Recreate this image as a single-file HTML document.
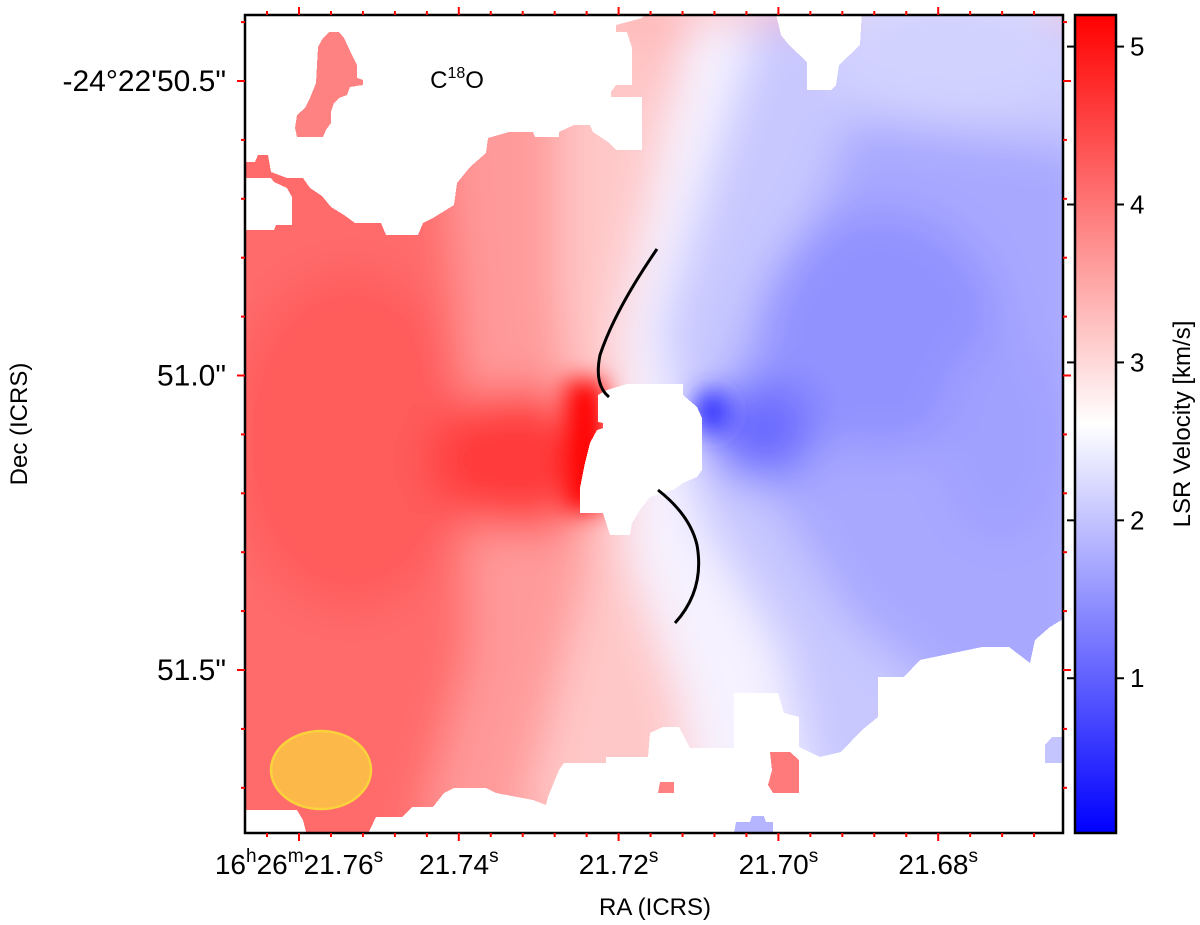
<!DOCTYPE html>
<html><head><meta charset="utf-8"><style>
html,body{margin:0;padding:0;background:#fff;}
svg{display:block;font-family:"Liberation Sans","DejaVu Sans",sans-serif;}
</style></head><body>
<svg id="fig" width="1200" height="925" viewBox="0 0 1200 925">
<defs>
<clipPath id="plotclip"><rect x="245" y="15" width="818" height="818"/></clipPath>
<filter id="blur" x="-20%" y="-20%" width="140%" height="140%"><feGaussianBlur stdDeviation="22"/></filter>
<filter id="blur2" x="-50%" y="-50%" width="200%" height="200%"><feGaussianBlur stdDeviation="12"/></filter>
<linearGradient id="cbgrad" x1="0" y1="0" x2="0" y2="1">
<stop offset="0" stop-color="#ff0000"/><stop offset="0.5" stop-color="#ffffff"/><stop offset="1" stop-color="#0000ff"/>
</linearGradient>
</defs>
<g clip-path="url(#plotclip)">
<g filter="url(#blur)">
<rect x="200" y="0" width="900" height="880" fill="#ff6a6a"/>
<ellipse cx="350" cy="440" rx="120" ry="170" fill="#ff5c5c"/>
<polygon points="430,15 720,15 650,300 640,560 720,700 720,833 420,833 470,650 460,300" fill="#ff9a9a"/>
<polygon points="560,15 730,15 660,250 625,330 660,520 730,640 740,833 520,833 560,680 590,560 560,300" fill="#ffc8c8"/>
<ellipse cx="690" cy="60" rx="50" ry="45" fill="#ffbcbc"/>
<polygon points="700,15 1100,15 1100,880 800,880 720,660 660,520 640,340 660,220" fill="#c8c8ff"/>
<polygon points="690,15 760,15 700,200 660,330 700,520 780,650 820,833 700,833 680,700 630,560 620,330 650,200" fill="#f6f2ff"/>
<polygon points="850,120 1100,150 1100,700 950,700 850,620 760,480 720,400 760,300 820,200" fill="#a8a8ff"/>
<ellipse cx="880" cy="330" rx="120" ry="120" fill="#9292ff"/>
<ellipse cx="1000" cy="440" rx="60" ry="100" fill="#a0a0ff"/>
<ellipse cx="950" cy="50" rx="130" ry="70" fill="#d2d2ff"/>
<ellipse cx="520" cy="460" rx="90" ry="70" fill="#ff3a3a"/>
<ellipse cx="760" cy="430" rx="55" ry="50" fill="#6a6aff"/>
</g>
<g filter="url(#blur2)">
<rect x="565" y="380" width="40" height="130" fill="#ff0000"/>
<ellipse cx="712" cy="412" rx="18" ry="22" fill="#3030ff"/>
</g>
<g fill="#ffffff" shape-rendering="crispEdges">
<polygon points="240,10 648,10 642,18 616,25 616,32 627,32 632,48 632,85 616,85 611,92 611,97 642,97 642,150 616,150 608,142 593,132 590,125 574,125 559,132 559,137 535,137 533,132 509,132 488,138 486,153 470,167 457,183 454,205 433,218 423,223 418,235 386,235 381,223 355,223 344,215 331,207 322,196 310,188 303,178 287,178 271,172 268,155 258,155 255,162 240,162"/>
<polygon points="240,178 271,178 274,182 287,188 292,197 292,225 276,225 274,230 240,230"/>
<polygon points="775,10 862,10 860,45 839,65 836,85 831,90 807,90 807,62 789,45 781,35"/>
<polygon points="598,395 607,390 627,384 683,384 683,395 697,407 702,418 702,470 697,477 683,483 673,490 650,497 640,510 632,523 630,535 610,535 603,513 580,513 580,488 585,463 590,443 597,430 603,428 603,423 598,422"/>
<polygon points="240,810 297,810 303,820 308,840 365,840 376,817 402,817 412,807 433,807 444,793 454,788 486,788 496,793 533,800 546,805 548,797 559,770 564,763 606,763 606,757 648,757 650,733 663,727 679,727 690,748 734,748 734,693 778,693 784,713 799,717 799,747 820,757 841,752 862,730 878,717 878,677 904,677 920,660 982,647 1009,647 1030,663 1035,640 1050,627 1070,615 1070,840 240,840"/>
</g>
<g shape-rendering="crispEdges">
<polygon fill="#ff8282" points="329,32 339,32 344,38 352,55 357,65 357,78 363,80 363,85 350,87 347,95 339,98 334,103 331,112 331,123 326,130 323,137 297,137 295,128 297,115 305,108 310,98 316,83 318,47 323,38"/>
<polygon fill="#ff7a7a" points="770,752 790,752 799,760 799,793 773,793 768,785 772,770"/>
<polygon fill="#ff8080" points="660,782 674,782 674,793 658,793"/>
<polygon fill="#b4b4ff" points="736,822 750,822 752,816 764,816 766,822 773,822 773,833 734,833"/>
<polygon fill="#c4c4ff" points="1045,745 1052,737 1063,737 1063,763 1045,763"/>
</g>
<path d="M657,249 Q615,310 600,355 Q594,385 609,397" fill="none" stroke="#000" stroke-width="3"/>
<path d="M658,490 Q690,515 697,545 Q705,590 675,623" fill="none" stroke="#000" stroke-width="3"/>
<ellipse cx="321" cy="770" rx="50" ry="39" fill="#fdb84a" stroke="#f9d23c" stroke-width="2.5"/>
<text x="457" y="88" font-size="24" text-anchor="middle">C<tspan font-size="16" dy="-10">18</tspan><tspan dy="10">O</tspan></text>
</g>
<rect x="245" y="15" width="818" height="818" fill="none" stroke="#000" stroke-width="2.5"/>
<g id="ticks"></g>
<g id="labels" font-size="28" fill="#000"></g>
<rect x="1075" y="15" width="41" height="818" fill="url(#cbgrad)" stroke="#000" stroke-width="2.5"/>
<g id="cbticks"></g>
<text x="655" y="915" font-size="24" text-anchor="middle">RA (ICRS)</text>
<text transform="translate(27,424) rotate(-90)" font-size="24" text-anchor="middle">Dec (ICRS)</text>
<text transform="translate(1190,424) rotate(-90)" font-size="24" text-anchor="middle">LSR Velocity [km/s]</text>
</svg>
<script>
const xTickLabels = ["21.76", "21.74", "21.72", "21.70", "21.68"];
const xTickPos = [0, 1, 2, 3, 4];
const yTickLabels = ["-24°22'50.5\"", "51.0\"", "51.5\""];
const yTickVals = [50.5, 51.0, 51.5];
const cbTicks = [1, 2, 3, 4, 5];
const cbMin = 0.02, cbMax = 5.2;

const NS = "http://www.w3.org/2000/svg";
function xAt(i){ return 299 + i*159.8; }
function yAt(v){ return 81 + (v-50.5)*589; }
function cbY(v){ return 833 - (v-cbMin)/(cbMax-cbMin)*818; }
function line(g,x1,y1,x2,y2,c,w){ const l=document.createElementNS(NS,'line'); l.setAttribute('x1',x1);l.setAttribute('y1',y1);l.setAttribute('x2',x2);l.setAttribute('y2',y2);l.setAttribute('stroke',c);l.setAttribute('stroke-width',w); g.appendChild(l); return l; }
const tg=document.getElementById('ticks');
for(let k=-1;k<=24;k++){
  const x=xAt(0)+k*31.96; if(x<246||x>1062) continue;
  const major=(k%5===0); const L=major?8:4;
  let t=line(tg,x,15,x,15-L,'#f00',2);
  
  
  t=line(tg,x,833,x,833+L,'#f00',2);
  
  
}
for(let k=-1;k<=13;k++){
  const y=yAt(50.5)+k*58.9; if(y<16||y>832) continue;
  const major=(k%5===0); const L=major?8:4;
  let t=line(tg,245,y,245-L,y,'#f00',2);
  
  
  t=line(tg,1063,y,1063+L,y,'#f00',2);
  
  
}
const lg=document.getElementById('labels');
xTickLabels.forEach((s,i)=>{
  const t=document.createElementNS(NS,'text');
  t.setAttribute('x',xAt(xTickPos[i])); t.setAttribute('y',874); t.setAttribute('text-anchor','middle');
  if(i===0){
    t.innerHTML='16<tspan font-size="19" dy="-12">h</tspan><tspan dy="12">26</tspan><tspan font-size="19" dy="-12">m</tspan><tspan dy="12">'+s+'</tspan><tspan font-size="19" dy="-12">s</tspan>';
  } else {
    t.innerHTML=s+'<tspan font-size="19" dy="-12">s</tspan>';
  }
  
  
  lg.appendChild(t);
});
yTickLabels.forEach((s,i)=>{
  const t=document.createElementNS(NS,'text');
  t.setAttribute('x',226); t.setAttribute('y',yAt(yTickVals[i])+10); t.setAttribute('text-anchor','end');
  t.setAttribute('font-size','30');
  t.textContent=s;
  
  
  lg.appendChild(t);
});
const cg=document.getElementById('cbticks');
cbTicks.forEach(v=>{
  const y=cbY(v);
  const l=line(cg,1116,y,1124,y,'#000',2);
  
  
  const l2=line(cg,1075,y,1067,y,'#000',2);
  
  
  const t=document.createElementNS(NS,'text');
  t.setAttribute('x',1130); t.setAttribute('y',y+9); t.setAttribute('font-size','26');
  t.textContent=String(v);
  
  
  cg.appendChild(t);
});
</script>
</body></html>
